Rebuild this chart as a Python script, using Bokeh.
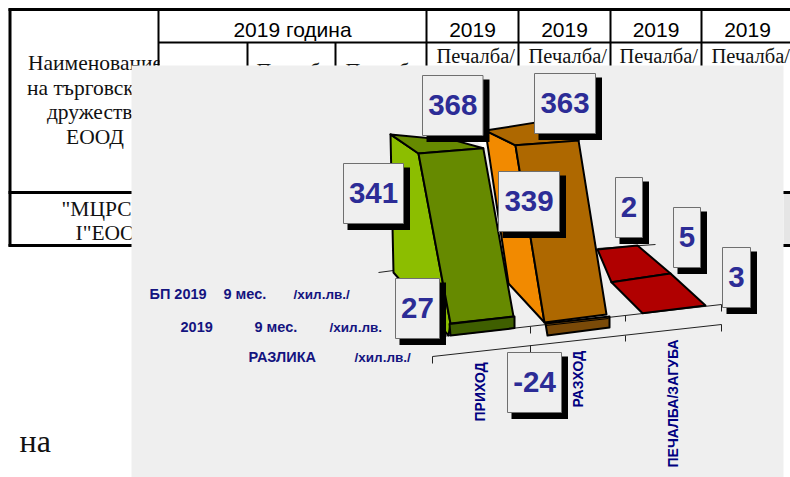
from bokeh.plotting import figure
from bokeh.embed import file_html
from bokeh.resources import INLINE
from bokeh.models import Range1d
from bokeh.core.properties import value

# ---------- data ----------
categories = ["ПРИХОД", "РАЗХОД", "ПЕЧАЛБА/ЗАГУБА"]
plan_2019 = [341, 339, 2]
actual_2019 = [368, 363, 5]
difference = [27, -24, 3]
series_names = [("БП 2019", "9 мес.", "/хил.лв./"),
                ("2019", "9 мес.", "/хил.лв."),
                ("РАЗЛИКА", "/хил.лв./")]
year_headers = ["2019 година", "2019", "2019", "2019", "2019"]
name_lines = ["Наименование", "на търговското", "дружество", "ЕООД"]

# ---------- layout (page pixels) ----------
p = figure(width=790, height=477, output_backend="svg", toolbar_location=None,
           x_range=Range1d(0, 790), y_range=Range1d(477, 0),
           min_border=0, outline_line_color=None, background_fill_color="white",
           border_fill_color="white")
p.xaxis.visible = False
p.yaxis.visible = False
p.grid.visible = False

BLACK = "#000000"
SERIF = value("Liberation Serif")
SANS = value("Liberation Sans")
SHIFT = 0.38  # baseline correction, in em

def txt(x, y, s, size, font=SANS, color="#000000", align="left", style="normal", angle=0):
    if angle:
        x -= SHIFT * size
    else:
        y -= SHIFT * size
    p.text([x], [y], text=[s], text_font=font, text_font_size=f"{size}px", text_color=color,
           text_align=align, text_baseline="alphabetic", text_font_style=style, angle=angle)

# table texts
for x, s in zip([292, 472, 564, 655.5, 747], year_headers):
    txt(x, 37, s, 21, align="center")
for y, s in zip([71, 95.5, 120, 145], name_lines):
    txt(94.5, y, s, 21.5, font=SERIF, color="#111111", align="center")
txt(61, 217, '"МЦРСП', 21.5, font=SERIF, color="#111111")
txt(75, 241, 'I"ЕООД', 21.5, font=SERIF, color="#111111")
for x in [436, 528, 619, 711]:
    txt(x, 63, "Печалба/", 20.5, font=SERIF, color="#111111")
for x in [256, 345]:
    txt(x, 78, "Печалба", 20.5, font=SERIF, color="#111111")
txt(19, 453, "на", 32, font=SERIF, color="#111111")

# cells clip their text at the column border
p.quad(left=[159], right=[175], top=[44], bottom=[66], fill_color="white", line_color=None)

# table rules
p.quad(left=[783], right=[790], top=[192], bottom=[245], fill_color="#e5e5e5", line_color=None)
hlines = [(8, 790, 9, 3), (158, 790, 42, 2), (8, 790, 192, 3), (8, 790, 245, 3)]
vlines = [(9.5, 8, 246, 3), (158, 8, 246, 2), (247, 42, 192, 2), (335, 42, 192, 2),
          (426, 8, 246, 2), (518, 8, 246, 2), (610, 8, 246, 2), (701, 8, 246, 2)]
for x0, x1, y, w in hlines:
    p.line([x0, x1], [y, y], line_color=BLACK, line_width=w)
for x, y0, y1, w in vlines:
    p.line([x, x], [y0, y1], line_color=BLACK, line_width=w)

# chart panel
p.quad(left=[131], right=[783], top=[65], bottom=[477], fill_color="#efefef", line_color=None)

# axes
for xs, ys in [([378, 393], [272, 270]), ([597, 655], [248, 244]),
               ([432, 721], [337, 304]), ([432, 721], [356, 324]),
               ([432, 432], [337, 343]), ([530, 530], [326, 333]), ([625, 625], [315, 321]), ([721, 721], [304, 311]),
               ([432, 432], [356, 363]), ([530, 530], [345, 352]), ([625, 625], [335, 341]), ([721, 721], [324, 331])]:
    p.line(xs, ys, line_color="#222222", line_width=1)

# pixel height per unit of value at each bar corner (oblique, slightly converging view)
def lift(base, per_unit, v):
    return base[0] + per_unit[0] * v, base[1] + per_unit[1] * v

def face(points, color):
    p.patch([q[0] for q in points], [q[1] for q in points], fill_color=color,
            line_color=BLACK, line_width=2, line_join="round")

# small piece of white wall visible behind the green bar
p.patch([470, 489, 484], [135, 135, 148], fill_color="#ffffff", line_color=None)

# green bars (income): back series = plan, front series = actual
v_back, v_front = plan_2019[0], actual_2019[0]
green_back_base = (393, 272)
green_front_l = (450, 323)
green_front_r = (513, 316)
green_back_r = (455, 283)
gtop_bl = lift(green_back_base, (-0.0088, -0.405), v_back)
gtop_fl = lift(green_front_l, (-0.087, -0.462), v_front)
gtop_fr = lift(green_front_r, (-0.082, -0.457), v_front)
gtop_br = lift(green_back_r, (0.0, -0.419), v_back)
face([green_back_base, (448, 335), green_front_l, gtop_fl, gtop_bl], "#8cbe00")
face([gtop_bl, gtop_br, gtop_fr, gtop_fl], "#668a00")
face([green_front_l, green_front_r, gtop_fr, gtop_fl], "#668a00")
# difference band under the green bar
d = abs(difference[0])
face([(449, 323.5), (514, 316), (514, 316 + 0.43 * d), (450, 323.5 + 0.43 * d)], "#3f5f00")

# orange bars (expense)
v_back, v_front = plan_2019[1], actual_2019[1]
orange_base_l = (508, 283)
orange_front_l = (544, 322)
orange_front_r = (606, 314)
orange_back_r = (550, 262)
otop_bl = lift(orange_base_l, (-0.068, -0.451), v_back)
otop_fl = lift(orange_front_l, (-0.080, -0.488), v_front)
otop_fr = lift(orange_front_r, (-0.077, -0.479), v_front)
otop_br = lift(orange_back_r, (0.0, -0.42), v_back)
face([orange_base_l, orange_front_l, otop_fl, otop_bl], "#f28a00")
face([otop_bl, otop_br, otop_fr, otop_fl], "#ae6800")
face([orange_front_l, orange_front_r, otop_fr, otop_fl], "#ae6800")
d = abs(difference[1])
face([(545, 323), (609, 316), (609, 316 + 0.46 * d), (547, 323 + 0.5 * d)], "#7a4a08")
p.line([545, 608], [325, 318], line_color=BLACK, line_width=1)

# red flat bars (profit/loss): each one's depth grows with its value
r_scale = 16.4
red_back_l = (597, 249)
red_back_r = (637, 245)
mid_l = (red_back_l[0] + 7 * plan_2019[2], red_back_l[1] + r_scale * plan_2019[2])
mid_r = (red_back_r[0] + 16.5 * plan_2019[2], red_back_r[1] + 14 * plan_2019[2])
face([red_back_l, red_back_r, mid_r, mid_l], "#b00000")
front_l = (mid_l[0] + 31 / 5 * actual_2019[2], mid_l[1] + 31 / 5 * actual_2019[2])
front_r = (mid_r[0] + 7 * actual_2019[2], mid_r[1] + 32 / 5 * actual_2019[2])
face([mid_l, mid_r, front_r, front_l], "#b00000")

# category labels
for x, y, s in zip([485, 582.5, 677.5], [421, 407, 467], categories):
    txt(x, y, s, 14, color="#000080", style="bold", angle=1.5708)

# series labels (data table headings)
rows = [(299, [149, 223, 293]), (332, [180, 254, 329]), (362, [248, 354])]
for (y, xs), names in zip(rows, series_names):
    for x, s in zip(xs, names):
        size = 13.5 if s.startswith("/") else 14.5
        txt(x, y, s, size, color="#14147f", style="bold")

# value boxes
boxes = [
    (plan_2019[0], 343, 403, 163, 223), (actual_2019[0], 422, 482.5, 75, 135),
    (actual_2019[1], 534, 595, 73, 133), (plan_2019[1], 498, 559, 171, 231),
    (plan_2019[2], 615, 642, 177, 237), (actual_2019[2], 673, 700, 207, 267),
    (difference[2], 722, 750, 247, 307), (difference[0], 395, 439, 278, 338),
    (difference[1], 507, 561, 352, 412),
]
for v, l, r, t, b in boxes:
    p.quad(left=[l + 4], right=[r + 6.5], top=[t + 4], bottom=[b + 6.5], fill_color=BLACK, line_color=None)
    p.quad(left=[l], right=[r], top=[t], bottom=[b], fill_color="#efefef", line_color="#6f6f6f", line_width=1)
    txt((l + r) / 2, (t + b) / 2 + 11, str(v), 29.5, color="#2c2c96", align="center", style="bold")

open("out.html", "w").write(file_html(p, INLINE))
